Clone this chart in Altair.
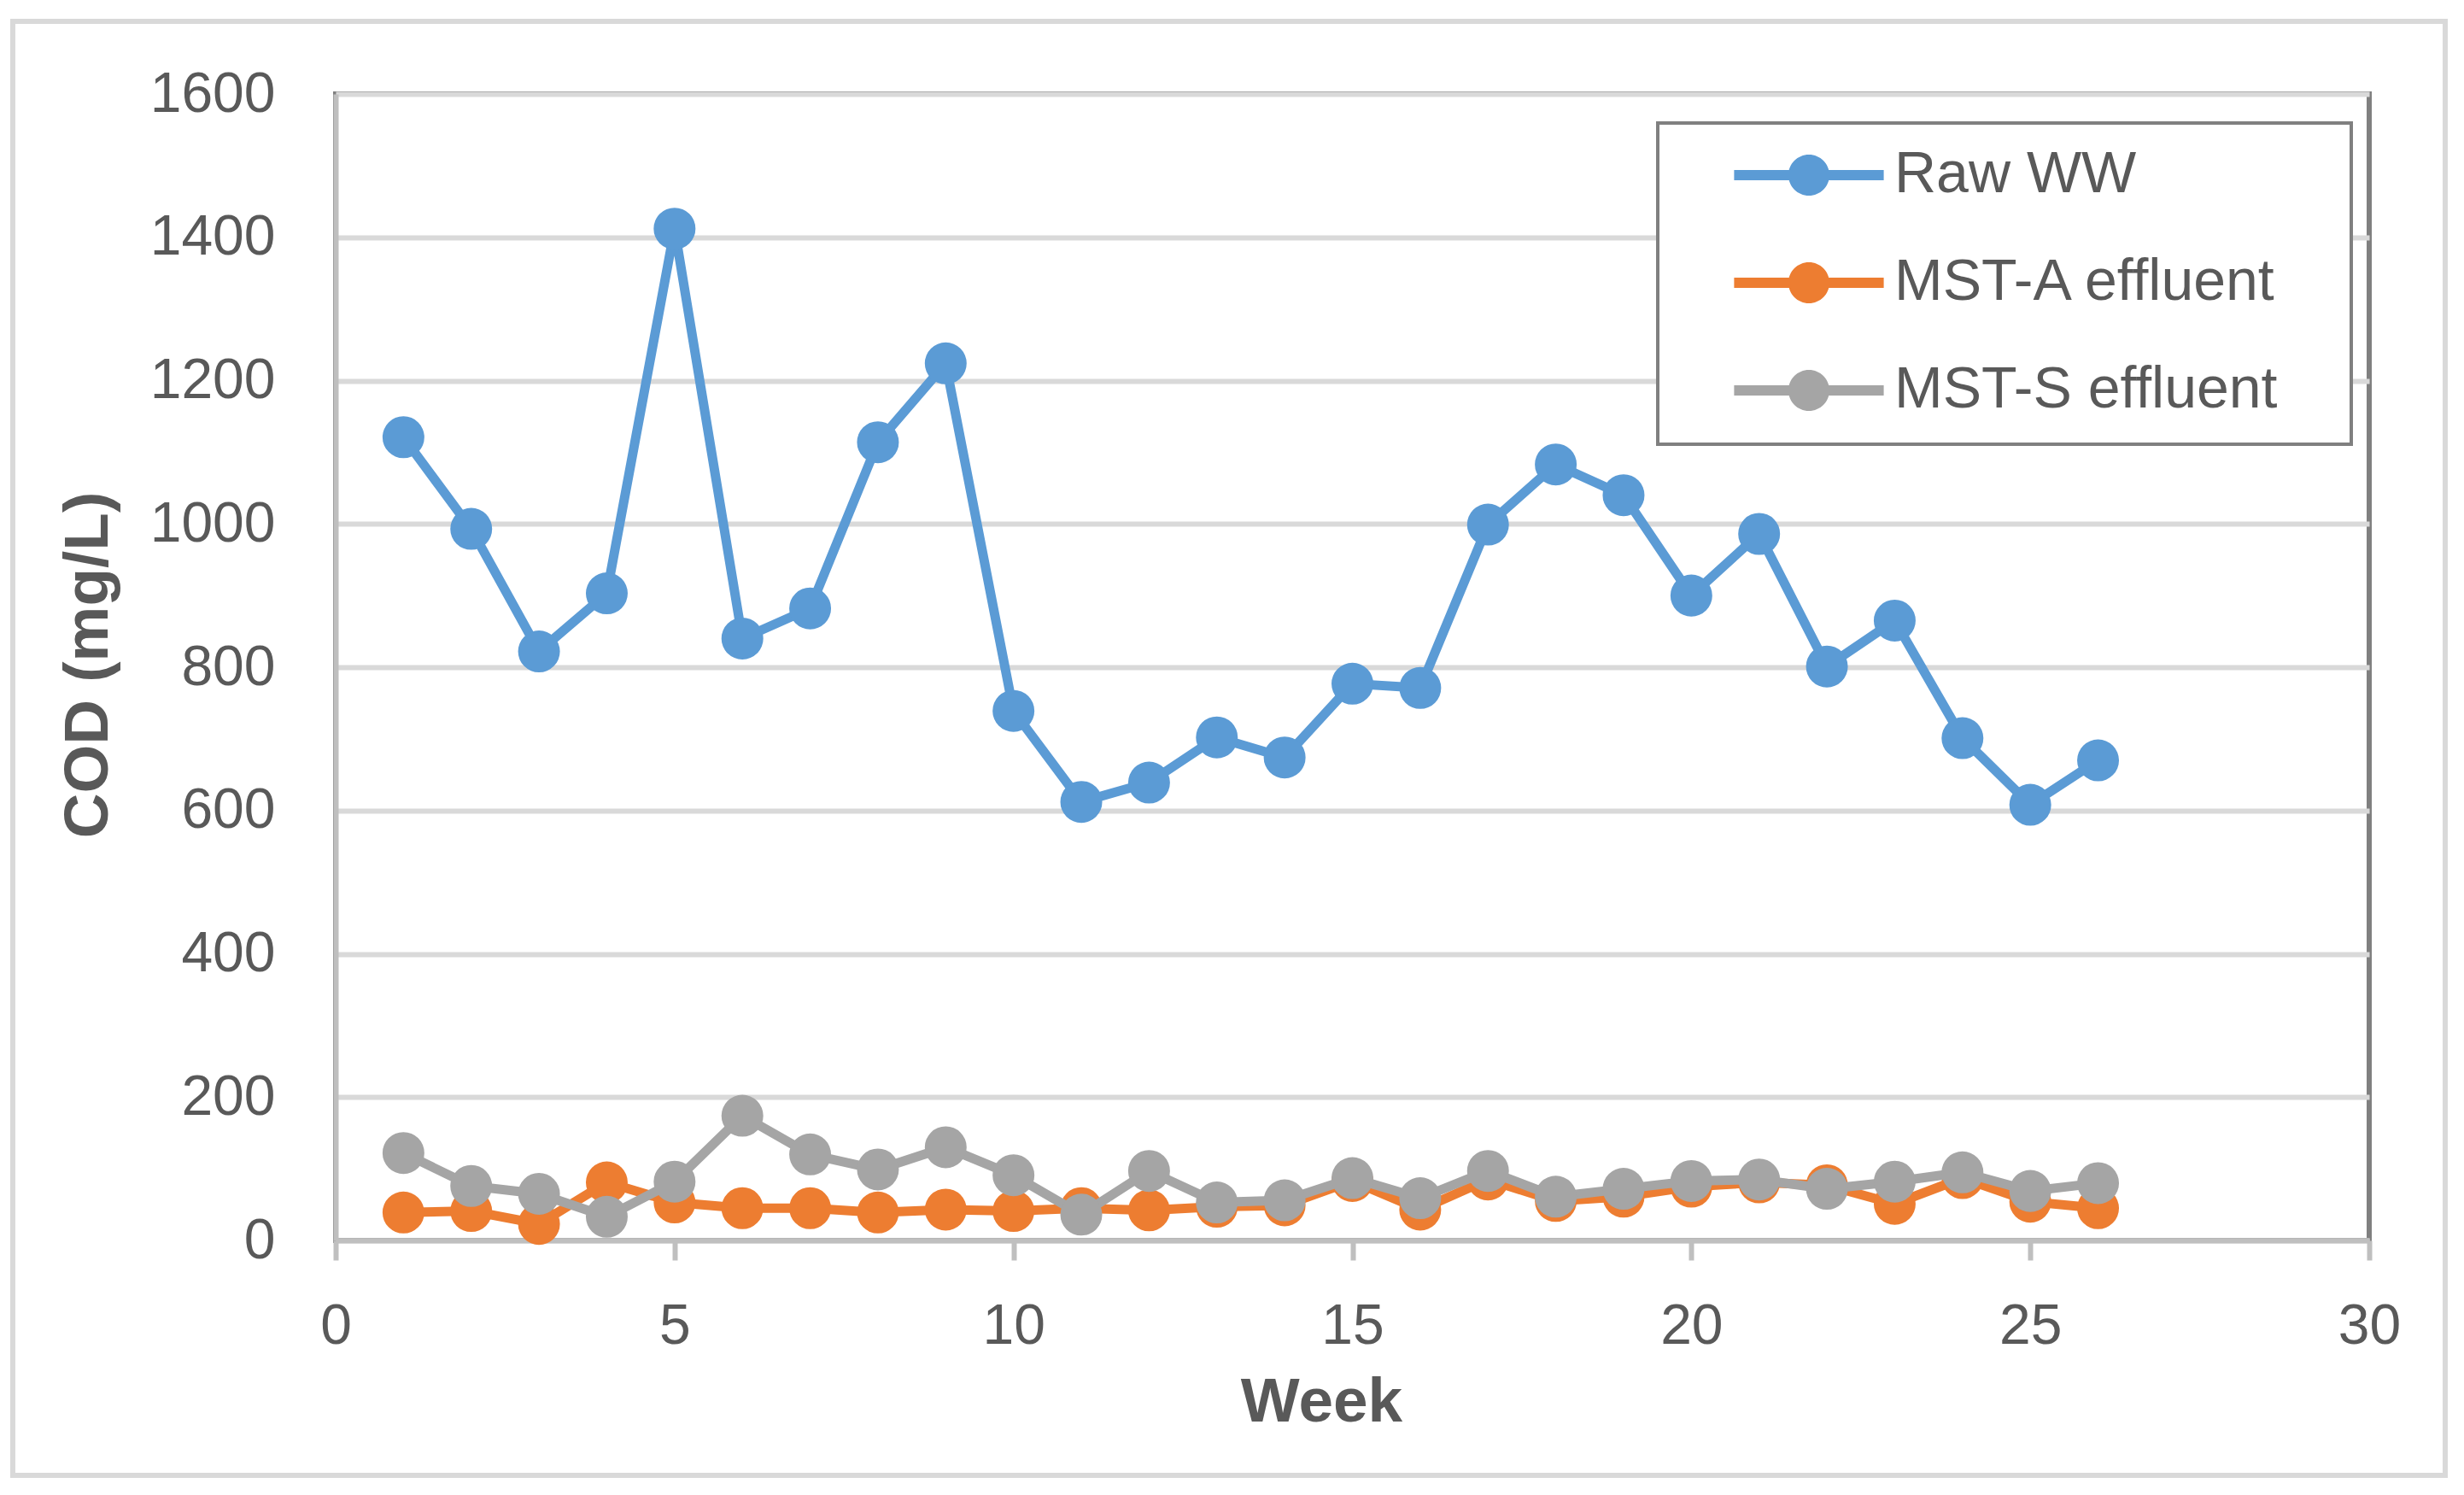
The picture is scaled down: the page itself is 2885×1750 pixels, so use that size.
import altair as alt
import pandas as pd

weeks = list(range(1, 27))
raw_ww = [1121, 993, 822, 903, 1412, 840, 882, 1114, 1224, 739, 612, 639, 702,
          674, 777, 771, 999, 1083, 1040, 900, 986, 801, 865, 701, 608, 670]
mst_a = [39, 41, 23, 81, 53, 45, 45, 39, 43, 41, 45, 42, 47,
         49, 83, 43, 85, 55, 61, 75, 81, 77, 51, 87, 54, 45]
mst_s = [122, 76, 65, 33, 82, 174, 120, 99, 130, 91, 36, 97, 53,
         56, 87, 59, 97, 61, 72, 83, 85, 72, 82, 95, 69, 80]

series_names = ["Raw WW", "MST-A effluent", "MST-S effluent"]
series_colors = ["#5b9bd5", "#ed7d31", "#a5a5a5"]
x_ticks = [0, 5, 10, 15, 20, 25, 30]
y_ticks = [0, 200, 400, 600, 800, 1000, 1200, 1400, 1600]

rows = []
for name, vals in zip(series_names, [raw_ww, mst_a, mst_s]):
    for w, v in zip(weeks, vals):
        rows.append({"Week": w, "COD": v, "series": name})
df = pd.DataFrame(rows)

FONT = "Liberation Sans"
TXT = "#595959"

# legend symbol: a line with a circle on it
legend_path = ("M-3.65,-0.25 L3.65,-0.25 L3.65,0.25 L-3.65,0.25 Z "
               "M0,-1 A1,1 0 1,1 0,1 A1,1 0 1,1 0,-1 Z")

color = alt.Color(
    "series:N",
    scale=alt.Scale(domain=series_names, range=series_colors),
    legend=alt.Legend(
        title=None, orient="none", legendX=1576, legendY=61,
        symbolType=legend_path, symbolSize=2304, symbolStrokeWidth=0,
        symbolOffset=115, labelOffset=66, labelLimit=2000,
        labelFont=FONT, labelFontSize=68, labelColor=TXT,
        padding=0, rowPadding=58,
    ),
)

x_enc = alt.X(
    "Week:Q",
    scale=alt.Scale(domain=[0, 30], nice=False),
    axis=alt.Axis(
        values=x_ticks, title="Week", grid=False,
        domainColor="#bfbfbf", domainWidth=6,
        tickColor="#bfbfbf", tickWidth=6, tickSize=23,
        labelFont=FONT, labelFontSize=66, labelColor=TXT,
        labelBaseline="alphabetic", labelPadding=97, labelFlush=False,
        titleFont=FONT, titleFontSize=73, titleFontWeight="bold", titleColor=TXT,
        titleBaseline="alphabetic", titleX=1154, titleY=211, titleAlign="center",
    ),
)
y_enc = alt.Y(
    "COD:Q",
    scale=alt.Scale(domain=[0, 1600], nice=False),
    axis=alt.Axis(
        values=y_ticks, title="COD (mg/L)", format="d",
        grid=True, gridColor="#d9d9d9", gridWidth=6,
        domainColor="#bfbfbf", domainWidth=6,
        ticks=False, tickSize=0,
        labelFont=FONT, labelFontSize=66, labelColor=TXT,
        labelPadding=71, labelFlush=False,
        titleFont=FONT, titleFontSize=73, titleFontWeight="bold", titleColor=TXT,
        titleBaseline="alphabetic", titleAngle=270, titleAlign="center",
        titleX=-268, titleY=668,
    ),
)

base = alt.Chart(df)

one_row = alt.Data(values=[{"f": 1}])

# outer chart frame
frame = alt.Chart(one_row).mark_rect(
    filled=False, stroke="#d9d9d9", strokeWidth=6
).encode(
    x=alt.value(-378), x2=alt.value(2470), y=alt.value(-85), y2=alt.value(1617)
)

# legend box
legend_box = alt.Chart(one_row).mark_rect(
    fill="white", stroke="#808080", strokeWidth=4
).encode(
    x=alt.value(1548), x2=alt.value(2360), y=alt.value(34), y2=alt.value(410)
)

layers = [frame, legend_box]
for name in series_names:
    sub = base.transform_filter(alt.datum.series == name)
    layers.append(sub.mark_line(strokeWidth=11).encode(x=x_enc, y=y_enc, color=color))
    layers.append(sub.mark_circle(size=2400, opacity=1).encode(x=x_enc, y=y_enc, color=color))

chart = alt.layer(*layers).properties(
    width=2381, height=1342,
    padding={"left": 385, "top": 102, "right": 95, "bottom": 280},
    autosize=alt.AutoSizeParams(type="none"),
    background="white",
).configure_view(
    stroke="#808080", strokeWidth=6
)

chart.save("out.html", embed_options={"renderer": "svg", "actions": False})
